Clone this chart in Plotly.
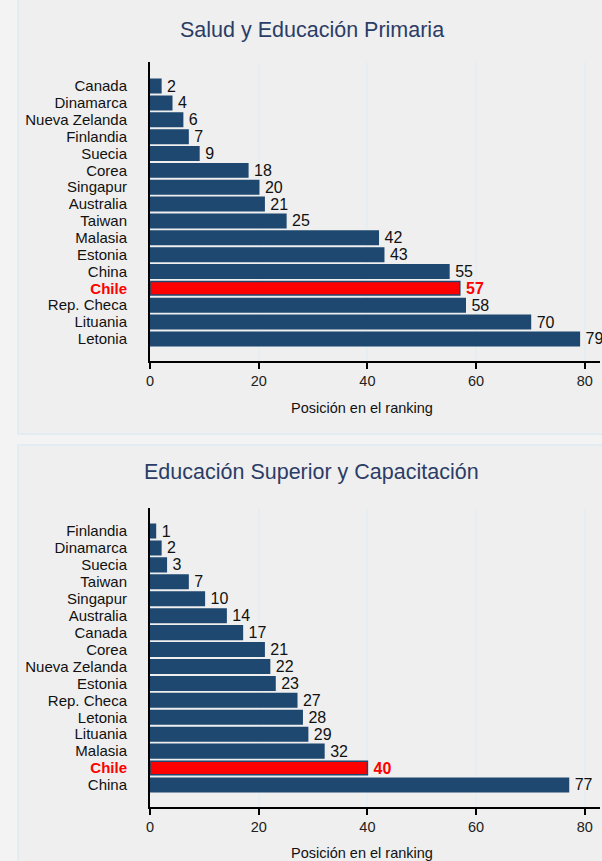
import plotly.graph_objects as go

W, H = 602, 861
NAVY = "#1e4870"
RED = "#ff0000"
TITLE_COLOR = "#2b3d66"
FONT = "Liberation Sans, Arial, sans-serif"

# Panel 1: Salud y Educación Primaria
paises_salud = ["Canada", "Dinamarca", "Nueva Zelanda", "Finlandia", "Suecia", "Corea",
                "Singapur", "Australia", "Taiwan", "Malasia", "Estonia", "China",
                "Chile", "Rep. Checa", "Lituania", "Letonia"]
ranking_salud = [2, 4, 6, 7, 9, 18, 20, 21, 25, 42, 43, 55, 57, 58, 70, 79]

# Panel 2: Educación Superior y Capacitación
paises_superior = ["Finlandia", "Dinamarca", "Suecia", "Taiwan", "Singapur", "Australia",
                   "Canada", "Corea", "Nueva Zelanda", "Estonia", "Rep. Checa", "Letonia",
                   "Lituania", "Malasia", "Chile", "China"]
ranking_superior = [1, 2, 3, 7, 10, 14, 17, 21, 22, 23, 27, 28, 29, 32, 40, 77]

x_ticks = [0, 20, 40, 60, 80]


def py(v):
    # pixel y (from top) -> paper y
    return 1 - v / H


def px(v):
    return v / W


fig = go.Figure()


def add_panel(paises, valores, xa, ya):
    colors = [RED if p == "Chile" else NAVY for p in paises]
    text_colors = [RED if p == "Chile" else "#111111" for p in paises]
    # thin space keeps a small gap between bar end and label
    texts = [f"\u2009<b>{v}</b>" if p == "Chile" else f"\u2009{v}"
             for p, v in zip(paises, valores)]
    fig.add_trace(go.Bar(
        x=valores, y=paises, orientation="h",
        marker=dict(color=colors, line=dict(color=NAVY, width=1.5)),
        width=0.8,
        text=texts, textposition="outside", constraintext="none",
        textfont=dict(color=text_colors, size=16, family=FONT),
        cliponaxis=False,
        xaxis=xa, yaxis=ya, showlegend=False, hoverinfo="x+y",
    ))


add_panel(paises_salud, ranking_salud, "x", "y")
add_panel(paises_superior, ranking_superior, "x2", "y2")


def ticktext(paises):
    return ["<b><span style='color:#ff0000'>Chile</span></b>" if p == "Chile" else p
            for p in paises]


xaxis_common = dict(
    range=[0, 82.8], tickvals=x_ticks, showline=True, linecolor="black", linewidth=2,
    ticks="outside", ticklen=6, tickwidth=1.5, tickcolor="black",
    showgrid=True, gridcolor="#e6eef2", gridwidth=2, zeroline=False,
    tickfont=dict(size=14.5, color="#222222", family=FONT),
)
yaxis_common = dict(
    showline=True, linecolor="black", linewidth=2, showgrid=False, zeroline=False,
    ticks="", tickfont=dict(size=15, color="#111111", family=FONT), ticklabelstandoff=18,
)

fig.update_layout(
    width=W, height=H,
    margin=dict(l=0, r=0, t=0, b=0),
    paper_bgcolor="#f3f3f3",
    plot_bgcolor="white",
    font=dict(family=FONT),
    xaxis=dict(domain=[px(147), px(600)], anchor="y", **xaxis_common),
    yaxis=dict(domain=[py(361), py(62)], anchor="x", range=[16.31, -1.43],
               categoryorder="array", categoryarray=paises_salud,
               tickvals=paises_salud, ticktext=ticktext(paises_salud), **yaxis_common),
    xaxis2=dict(domain=[px(147), px(600)], anchor="y2", **xaxis_common),
    yaxis2=dict(domain=[py(807), py(508)], anchor="x2", range=[16.3, -1.36],
                categoryorder="array", categoryarray=paises_superior,
                tickvals=paises_superior, ticktext=ticktext(paises_superior), **yaxis_common),
    shapes=[
        dict(type="rect", xref="paper", yref="paper", x0=px(14), x1=px(620),
             y0=py(434), y1=py(-5), fillcolor="#efefef",
             line=dict(color="#e3ecf1", width=2), layer="below"),
        dict(type="rect", xref="paper", yref="paper", x0=px(14), x1=px(620),
             y0=py(880), y1=py(445), fillcolor="#efefef",
             line=dict(color="#e3ecf1", width=2), layer="below"),
    ],
    annotations=[
        dict(text="Salud y Educación Primaria", x=px(310), y=py(30), xref="paper", yref="paper",
             showarrow=False, font=dict(size=21.5, color=TITLE_COLOR, family=FONT),
             xanchor="center", yanchor="middle"),
        dict(text="Educación Superior y Capacitación", x=px(310), y=py(472), xref="paper",
             yref="paper", showarrow=False, font=dict(size=21.5, color=TITLE_COLOR, family=FONT),
             xanchor="center", yanchor="middle"),
        dict(text="Posición en el ranking", x=px(360), y=py(408), xref="paper", yref="paper",
             showarrow=False, font=dict(size=14.5, color="#111111", family=FONT),
             xanchor="center", yanchor="middle"),
        dict(text="Posición en el ranking", x=px(360), y=py(853), xref="paper", yref="paper",
             showarrow=False, font=dict(size=14.5, color="#111111", family=FONT),
             xanchor="center", yanchor="middle"),
    ],
)

# page body without the default margin so the figure sits at the window's corner
fig.write_html(
    "out.html",
    config={"displayModeBar": False},
    post_script="document.body.style.margin='0';"
                "document.body.style.overflow='hidden';"
                "document.body.style.background='#f3f3f3';",
)
